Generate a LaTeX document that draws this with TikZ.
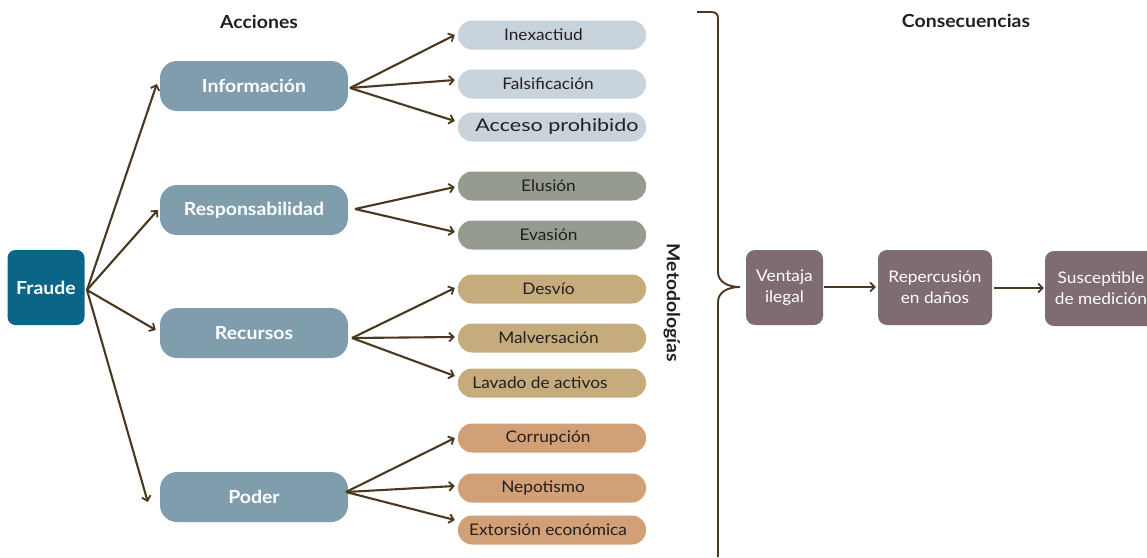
\documentclass[tikz,border=0pt]{standalone}
\usepackage{fontspec}
\setmainfont{Lato}[FakeStretch=1.08]
\usetikzlibrary{arrows.meta}
\definecolor{fraudec}{HTML}{0A6587}
\definecolor{actc}{HTML}{7F9DAD}
\definecolor{infoc}{HTML}{C8D3DB}
\definecolor{respc}{HTML}{959B8E}
\definecolor{recc}{HTML}{C6AC7C}
\definecolor{podc}{HTML}{D2A077}
\definecolor{consc}{HTML}{7F6B72}
\definecolor{arrc}{HTML}{4A3820}
\definecolor{txtc}{HTML}{231F20}
\tikzset{
  fraudebox/.style={fill=fraudec, rounded corners=8pt, minimum width=77pt, minimum height=75pt, text=white, font=\fontsize{18}{21}\selectfont\bfseries, inner sep=0pt},
  actbox/.style={fill=actc, rounded corners=17pt, minimum width=188pt, minimum height=50pt, text=white, font=\fontsize{18}{21}\selectfont\bfseries, inner sep=0pt},
  metbox/.style={rounded corners=14pt, minimum width=188pt, minimum height=29pt, text=txtc, font=\fontsize{16}{19}\selectfont, inner sep=0pt},
  consbox/.style={fill=consc, rounded corners=9pt, minimum height=75pt, text=white, font=\fontsize{16}{21}\selectfont, align=center, inner sep=0pt},
  titletext/.style={text=txtc, font=\fontsize{18}{21}\selectfont\bfseries},
  conn/.style={draw=arrc, line width=2.1pt, -{Straight Barb[length=4.5pt,width=9pt,line width=1.8pt]}},
}
\begin{document}
\begin{tikzpicture}[x=1pt,y=-1pt]
\useasboundingbox (0,0) rectangle (1147,557);
% titles
\node[titletext] (tacc) at (259,22) {Acciones};
\node[titletext] (tcons) at (966,21) {Consecuencias};
\node[titletext, rotate=-90] (tmet) at (672,303) {Metodologías};
% main nodes
\node[fraudebox] (fraude) at (46,287.5) {\raisebox{-3pt}{Fraude}};
\node[actbox] (info) at (254,86) {Información};
\node[actbox] (resp) at (254,210) {Responsabilidad};
\node[actbox] (recu) at (254,333) {Recursos};
\node[actbox] (poder) at (254,497) {Poder};
% methodologies
\node[metbox, fill=infoc] (m1) at (552,35) {\hspace*{-17pt}Inexactiud};
\node[metbox, fill=infoc] (m2) at (552,84) {\hspace*{-8pt}Falsificación};
\node[metbox, fill=infoc] (m3) at (552,127) {\hspace*{10pt}\addfontfeatures{FakeStretch=1.23}\fontsize{17.5}{21}\selectfont Acceso prohibido};
\node[metbox, fill=respc] (m4) at (552,186) {\hspace*{-7pt}Elusión};
\node[metbox, fill=respc] (m5) at (552,235) {\hspace*{-7pt}Evasión};
\node[metbox, fill=recc] (m6) at (552,289) {\hspace*{-7pt}Desvío};
\node[metbox, fill=recc] (m7) at (552,338) {\hspace*{-7pt}Malversación};
\node[metbox, fill=recc] (m8) at (552,383) {\hspace*{-24pt}Lavado de activos};
\node[metbox, fill=podc] (m9) at (552,438) {\hspace*{-8pt}Corrupción};
\node[metbox, fill=podc] (m10) at (552,488) {\hspace*{-18pt}Nepotismo};
\node[metbox, fill=podc] (m11) at (552,530) {\hspace*{-8pt}Extorsión económica};
% consequences
\node[consbox, minimum width=77pt] (c1) at (784.5,287.5) {Ventaja\\ilegal};
\node[consbox, minimum width=114pt] (c2) at (935,287.5) {Repercusión\\en daños};
\node[consbox, minimum width=112pt] (c3) at (1101,288.5) {Susceptible\\de medición};
% brace
\coordinate (bt) at (697,12);
\coordinate (bm) at (740,287);
\coordinate (bb) at (718,557);
\draw[arrc, line width=1.9pt, line join=round] (bt) -- (711,12) .. controls (716,12) and (718,14) .. (718,19)
  -- (718,272) .. controls (718,282) and (728,287) .. (bm)
  (bm) .. controls (728,287) and (718,292) .. (718,302) -- (bb);
% connectors from Fraude
\coordinate (fo) at (87,290);
\draw[conn] (fo) -- ([xshift=-3pt,yshift=2pt]info.west);
\draw[conn] (fo) -- ([xshift=-2pt]resp.west);
\draw[conn] (fo) -- ([xshift=-4pt,yshift=3pt]recu.west);
\draw[conn] (fo) -- ([xshift=-12pt,yshift=-5pt]poder.west);
% connectors to methodologies
\coordinate (io) at (350,88);
\draw[conn] (io) -- ([xshift=-3pt]m1.west);
\draw[conn] (io) -- ([xshift=-3pt,yshift=4pt]m2.west);
\draw[conn] (io) -- ([xshift=-3pt,yshift=6pt]m3.west);
\coordinate (ro) at (355,209);
\draw[conn] (ro) -- ([xshift=-3pt,yshift=-1pt]m4.west);
\draw[conn] (ro) -- ([xshift=-3pt,yshift=3pt]m5.west);
\coordinate (rco) at (352,338);
\draw[conn] (rco) -- ([xshift=-3pt,yshift=1pt]m6.west);
\draw[conn] (rco) -- ([xshift=-3pt,yshift=1pt]m7.west);
\draw[conn] (rco) -- ([xshift=-3pt,yshift=7pt]m8.west);
\coordinate (po) at (346,492);
\draw[conn] (po) -- ([xshift=-3pt]m9.west);
\draw[conn] (po) -- ([xshift=-3pt,yshift=2pt]m10.west);
\draw[conn] (po) -- ([xshift=-3pt,yshift=10pt]m11.west);
% consequence connectors
\draw[conn] ([xshift=1pt]c1.east |- 0,287) -- ([xshift=-2pt]c2.west |- 0,287);
\draw[conn] ([xshift=2pt]c2.east |- 0,288) -- ([xshift=-1pt]c3.west |- 0,288);
\end{tikzpicture}
\end{document}
